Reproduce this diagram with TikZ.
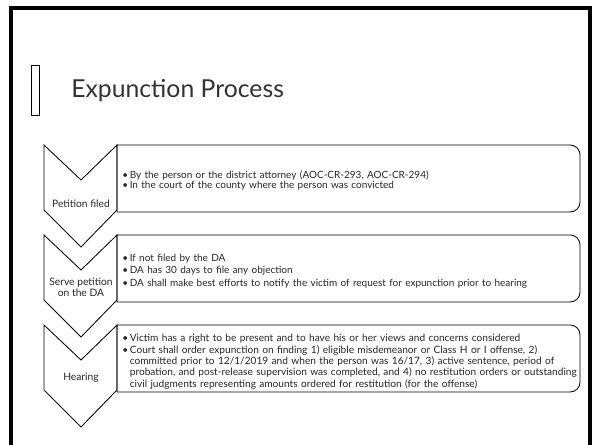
\documentclass[tikz,border=0pt]{standalone}
\usepackage{fontspec}
\setmainfont{Lato}
\usetikzlibrary{positioning}

% bullet paragraph with hanging indent
\newcommand\bitem[1]{\par\noindent\hangindent=0.75em\hangafter=1\makebox[0.75em][l]{\textbullet}#1\par}

\begin{document}
\begin{tikzpicture}[x=0.025cm, y=-0.025cm,
    chev/.style={draw, line width=0.6pt, line join=miter},
    infobox/.style={draw, line width=0.6pt},
    steplabel/.style={font=\fontsize{7.3}{7.6}\selectfont, align=center, text=black!85, inner sep=0pt},
    infotext/.style={text width=12cm, align=left, anchor=west, inner sep=0pt, text=black!85},
]
\useasboundingbox (0,0) rectangle (600,445);
% slide frame and title
\draw[line width=2.6pt] (11,445) -- (11,7.7) -- (590,7.7) -- (590,445);
\draw[line width=0.5pt] (31,65) rectangle (39,115);
\node[anchor=base west, font=\fontsize{17.6}{20}\selectfont, text=black!80, inner sep=0pt] (title) at (71,97.6) {Expunction Process};

% chevrons and boxes
\foreach \t in {145,235,325} {
  \draw[chev] (44,\t) -- (81,\t+35) -- (117,\t) -- (117,\t+65) -- (81,\t+102) -- (44,\t+65) -- cycle;
  \draw[infobox] (117,\t) -- (350,\t) [rounded corners=7pt] -- (580,\t) -- (580,\t+67) -- (350,\t+67) [sharp corners] -- (117,\t+67) -- cycle;
}

\node[steplabel] (filed) at (81,204) {Petition filed};
\node[steplabel] (serve) at (81,287) {Serve petition\\on the DA};
\node[steplabel] (hearing) at (81,378) {Hearing};

\node[infotext, font=\fontsize{7.1}{7.1}\selectfont] (filedtext) at (122,179) {%
  \bitem{By the person or the district attorney (AOC-CR-293, AOC-CR-294)}%
  \bitem{In the court of the county where the person was convicted}};
\node[infotext, font=\fontsize{7.1}{9}\selectfont] (servetext) at (122,268.5) {%
  \bitem{If not filed by the DA}%
  \bitem{DA has 30 days to file any objection}%
  \bitem{DA shall make best efforts to notify the victim of request for expunction prior to hearing}};
\node[infotext, font=\fontsize{7.2}{7.9}\selectfont] (hearingtext) at (122,359) {\setlength{\parskip}{0.85pt}%
  \bitem{Victim has a right to be present and to have his or her views and concerns considered}%
  \bitem{Court shall order expunction on finding 1) eligible misdemeanor or Class H or I offense, 2)\newline
    committed prior to 12/1/2019 and when the person was 16/17, 3) active sentence, period of\newline
    probation, and post-release supervision was completed, and 4) no restitution orders or outstanding\newline
    civil judgments representing amounts ordered for restitution (for the offense)}};
\end{tikzpicture}
\end{document}
